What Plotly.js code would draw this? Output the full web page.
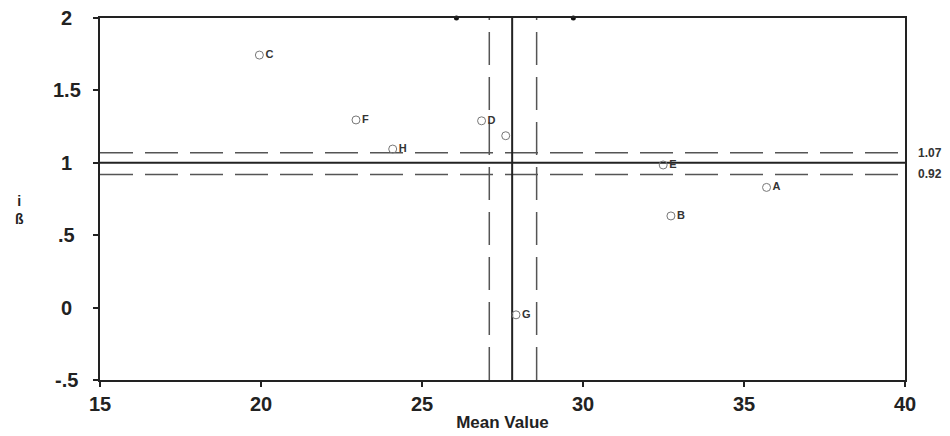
<!DOCTYPE html>
<html>
<head>
<meta charset="utf-8">
<script src="https://cdn.plot.ly/plotly-3.0.1.min.js"></script>
<style>html,body{margin:0;padding:0;background:#fff;}#chart{width:950px;height:436px;}</style>
</head>
<body>
<div id="chart"></div>
<script>
// Data
const pointLabels = ["A", "B", "C", "D", "E", "F", "G", "H", ""];
const meanValues  = [35.7, 32.73, 19.95, 26.85, 32.49, 22.95, 27.92, 24.09, 27.6];
const betaValues  = [0.83, 0.633, 1.744, 1.29, 0.985, 1.296, -0.05, 1.095, 1.187];

const meanCenter = 27.8;
const meanLow = 27.09;
const meanHigh = 28.56;
const betaCenter = 1;
const betaLow = 0.92;
const betaHigh = 1.07;

const topMarkX = [26.07, 29.7];
const topMarkY = [2, 2];

const xTickVals = [15, 20, 25, 30, 35, 40];
const yTickVals = [2, 1.5, 1, 0.5, 0, -0.5];
const yTickText = ["2", "1.5", "1", ".5", "0", "-.5"];

const xMin = 15, xMax = 40, yMin = -0.5, yMax = 2;
const FONT = "Liberation Sans, Arial, sans-serif";

const traces = [
  {
    type: "scatter", mode: "lines", x: [xMin, xMax], y: [betaHigh, betaHigh],
    line: {color: "#555", width: 1.5, dash: "33px,12px"}, hoverinfo: "skip"
  },
  {
    type: "scatter", mode: "lines", x: [xMin, xMax], y: [betaLow, betaLow],
    line: {color: "#555", width: 1.5, dash: "33px,12px"}, hoverinfo: "skip"
  },
  {
    type: "scatter", mode: "lines", x: [meanLow, meanLow], y: [yMin, yMax],
    line: {color: "#555", width: 1.5, dash: "33px,12px"}, hoverinfo: "skip"
  },
  {
    type: "scatter", mode: "lines", x: [meanHigh, meanHigh], y: [yMin, yMax],
    line: {color: "#555", width: 1.5, dash: "33px,12px"}, hoverinfo: "skip"
  },
  {
    type: "scatter", mode: "lines", x: [xMin, xMax], y: [betaCenter, betaCenter],
    line: {color: "#222", width: 2}, hoverinfo: "skip"
  },
  {
    type: "scatter", mode: "lines", x: [meanCenter, meanCenter], y: [yMin, yMax],
    line: {color: "#222", width: 2}, hoverinfo: "skip"
  },
  {
    type: "scatter", mode: "markers", x: topMarkX, y: topMarkY,
    marker: {color: "#111", size: 5}, cliponaxis: false, hoverinfo: "skip"
  },
  {
    type: "scatter", mode: "markers+text", x: meanValues, y: betaValues,
    text: pointLabels, textposition: "middle right",
    textfont: {family: FONT, size: 11, color: "#333", weight: "bold"},
    marker: {symbol: "circle-open", size: 8, color: "#777", line: {width: 1, color: "#777"}}
  }
];

const annotations = [];
yTickVals.forEach((v, i) => {
  annotations.push({
    xref: "paper", yref: "y", x: -0.041, y: v, xanchor: "center", yanchor: "middle",
    text: "<b>" + yTickText[i] + "</b>", showarrow: false,
    font: {family: FONT, size: 20, color: "#222"}
  });
});
annotations.push({
  xref: "paper", yref: "y", x: 1.014, y: betaHigh, xanchor: "left", yanchor: "middle",
  text: "<b>1.07</b>", showarrow: false,
  font: {family: FONT, size: 12, color: "#333"}
});
annotations.push({
  xref: "paper", yref: "y", x: 1.014, y: betaLow, xanchor: "left", yanchor: "middle",
  text: "<b>0.92</b>", showarrow: false,
  font: {family: FONT, size: 12, color: "#333"}
});
annotations.push({
  xref: "paper", yref: "paper", x: -0.1, y: 0.47, xanchor: "center", yanchor: "middle",
  text: "<b>i<br>ß</b>", showarrow: false,
  font: {family: FONT, size: 14, color: "#222"}
});

const layout = {
  width: 950, height: 436,
  margin: {l: 100, r: 45, t: 18, b: 56},
  paper_bgcolor: "#fff", plot_bgcolor: "#fff",
  showlegend: false,
  xaxis: {
    range: [xMin, xMax], tickvals: xTickVals, showgrid: false, zeroline: false,
    showline: true, linecolor: "#222", linewidth: 2, mirror: true,
    ticks: "outside", ticklen: 5, tickwidth: 2, tickcolor: "#222",
    tickfont: {family: FONT, size: 20, color: "#222", weight: "bold"},
    title: {text: "<b>Mean Value</b>", standoff: 2,
      font: {family: FONT, size: 17, color: "#222"}}
  },
  yaxis: {
    range: [yMin, yMax], tickvals: yTickVals, showticklabels: false,
    showgrid: false, zeroline: false,
    showline: true, linecolor: "#222", linewidth: 2, mirror: true,
    ticks: "outside", ticklen: 5, tickwidth: 2, tickcolor: "#222"
  },
  annotations: annotations
};

Plotly.newPlot("chart", traces, layout, {displayModeBar: false, staticPlot: true});
</script>
</body>
</html>
